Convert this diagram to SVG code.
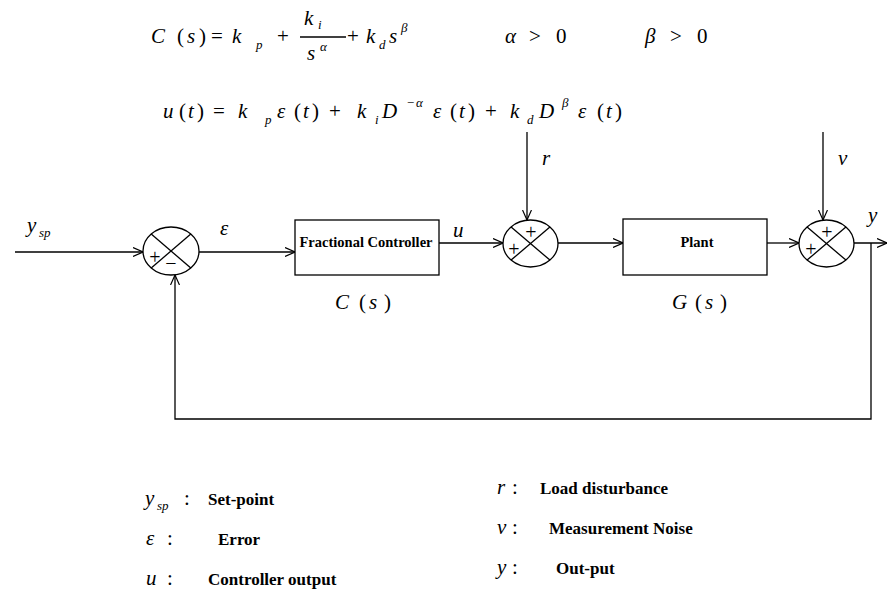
<svg xmlns="http://www.w3.org/2000/svg" width="888" height="603" viewBox="0 0 888 603" font-family="'Liberation Serif', 'Times New Roman', serif">
<style>
text{font-family:'Liberation Serif','Times New Roman',serif;fill:#000}
.m{font-size:21px;font-style:italic}
.u{font-size:21px}
.s{font-size:13px;font-style:italic}
.b{font-size:14.5px;font-weight:bold}
.lg{font-size:17px;font-weight:bold}
.pm{font-size:20px}
.ln{stroke:#000;stroke-width:1.3;fill:none}
</style>
<defs>
<marker id="arr" viewBox="0 0 10 10" refX="10" refY="5" markerWidth="10" markerHeight="10" markerUnits="userSpaceOnUse" orient="auto">
<path d="M0,0.5 L10,5 L0,9.5" fill="none" stroke="#000" stroke-width="1.2"/>
</marker>
</defs>

<g id="eq1">
<text class="m" x="151" y="43">C</text>
<text class="u" x="177" y="43">(</text>
<text class="m" x="187" y="43">s</text>
<text class="u" x="199" y="43">)</text>
<text class="u" x="211" y="43">=</text>
<text class="m" x="232" y="43">k</text>
<text class="s" x="256" y="49">p</text>
<text class="u" x="277" y="43">+</text>
<text class="m" x="304" y="25">k</text>
<text class="s" x="318" y="29">i</text>
<line class="ln" x1="300" y1="37" x2="346" y2="37"/>
<text class="m" x="307" y="60">s</text>
<text class="s" x="320" y="51">α</text>
<text class="u" x="347" y="43">+</text>
<text class="m" x="366" y="43">k</text>
<text class="s" x="379" y="49">d</text>
<text class="m" x="389" y="43">s</text>
<text class="s" x="401" y="32">β</text>
<text class="m" x="505" y="43">α</text>
<text class="u" x="529" y="43">&gt;</text>
<text class="u" x="556" y="43">0</text>
<text class="m" x="645" y="43">β</text>
<text class="u" x="670" y="43">&gt;</text>
<text class="u" x="697" y="43">0</text>
</g>

<g id="eq2">
<text class="m" x="163" y="118">u</text>
<text class="u" x="179" y="118">(</text>
<text class="m" x="188" y="118">t</text>
<text class="u" x="197" y="118">)</text>
<text class="u" x="213" y="118">=</text>
<text class="m" x="238" y="118">k</text>
<text class="s" x="265" y="124">p</text>
<text class="m" x="277" y="118">ε</text>
<text class="u" x="294" y="118">(</text>
<text class="m" x="303" y="118">t</text>
<text class="u" x="312" y="118">)</text>
<text class="u" x="329" y="118">+</text>
<text class="m" x="357" y="118">k</text>
<text class="s" x="375" y="124">i</text>
<text class="m" x="382" y="118">D</text>
<text class="s" x="406" y="107">−</text>
<text class="s" x="416" y="107">α</text>
<text class="m" x="433" y="118">ε</text>
<text class="u" x="450" y="118">(</text>
<text class="m" x="459" y="118">t</text>
<text class="u" x="468" y="118">)</text>
<text class="u" x="485" y="118">+</text>
<text class="m" x="510" y="118">k</text>
<text class="s" x="527" y="124">d</text>
<text class="m" x="539" y="118">D</text>
<text class="s" x="562" y="107">β</text>
<text class="m" x="578" y="118">ε</text>
<text class="u" x="597" y="118">(</text>
<text class="m" x="606" y="118">t</text>
<text class="u" x="615" y="118">)</text>
</g>

<g id="connectors">
<line class="ln" x1="15" y1="252" x2="143" y2="252" marker-end="url(#arr)"/>
<line class="ln" x1="199" y1="252" x2="295" y2="252" marker-end="url(#arr)"/>
<line class="ln" x1="439" y1="243" x2="503" y2="243" marker-end="url(#arr)"/>
<line class="ln" x1="527" y1="132" x2="527" y2="220" marker-end="url(#arr)"/>
<line class="ln" x1="558" y1="243" x2="623" y2="243" marker-end="url(#arr)"/>
<line class="ln" x1="767" y1="243" x2="799" y2="243" marker-end="url(#arr)"/>
<line class="ln" x1="823" y1="132" x2="823" y2="220" marker-end="url(#arr)"/>
<line class="ln" x1="854" y1="243" x2="887" y2="243" marker-end="url(#arr)"/>
<polyline class="ln" points="871,243 871,419 175,419 175,275" marker-end="url(#arr)"/>
</g>

<g id="sum1">
<ellipse class="ln" cx="171" cy="251" rx="28" ry="24"/>
<line class="ln" x1="151.2" y1="234" x2="190.8" y2="268"/>
<line class="ln" x1="151.2" y1="268" x2="190.8" y2="234"/>
<text class="pm" x="155" y="264" text-anchor="middle">+</text>
<text class="pm" x="171" y="270" text-anchor="middle">−</text>
</g>

<g id="controller">
<rect class="ln" x="295" y="220" width="144" height="55"/>
<text class="b" x="366" y="247" text-anchor="middle">Fractional Controller</text>
</g>

<g id="sum2">
<ellipse class="ln" cx="530.5" cy="243.5" rx="27.5" ry="23.5"/>
<line class="ln" x1="511.1" y1="226.9" x2="549.9" y2="260.1"/>
<line class="ln" x1="511.1" y1="260.1" x2="549.9" y2="226.9"/>
<text class="pm" x="531" y="239" text-anchor="middle">+</text>
<text class="pm" x="514" y="256" text-anchor="middle">+</text>
</g>

<g id="plant">
<rect class="ln" x="623" y="219" width="144" height="56"/>
<text class="b" x="697" y="247" text-anchor="middle">Plant</text>
</g>

<g id="sum3">
<ellipse class="ln" cx="826.5" cy="243.5" rx="27.5" ry="23.5"/>
<line class="ln" x1="807.1" y1="226.9" x2="845.9" y2="260.1"/>
<line class="ln" x1="807.1" y1="260.1" x2="845.9" y2="226.9"/>
<text class="pm" x="827" y="239" text-anchor="middle">+</text>
<text class="pm" x="811" y="256" text-anchor="middle">+</text>
</g>

<g id="labels">
<text class="m" x="27" y="232">y</text>
<text class="s" x="39" y="237">sp</text>
<text class="m" x="220" y="235">ε</text>
<text class="m" x="453" y="237">u</text>
<text class="m" x="542" y="165">r</text>
<text class="m" x="838" y="165">v</text>
<text class="m" x="868" y="222">y</text>
<text class="m" x="335" y="309">C</text>
<text class="u" x="359" y="309">(</text>
<text class="m" x="369" y="309">s</text>
<text class="u" x="384" y="309">)</text>
<text class="m" x="672" y="309">G</text>
<text class="u" x="695" y="309">(</text>
<text class="m" x="705" y="309">s</text>
<text class="u" x="720" y="309">)</text>
</g>

<g id="legend">
<text class="m" x="145" y="505">y</text>
<text class="s" x="157" y="510">sp</text>
<text class="u" x="184" y="505">:</text>
<text class="lg" x="208" y="505">Set-point</text>
<text class="m" x="146" y="545">ε</text>
<text class="u" x="167" y="545">:</text>
<text class="lg" x="218" y="545">Error</text>
<text class="m" x="146" y="585">u</text>
<text class="u" x="167" y="585">:</text>
<text class="lg" x="208" y="585">Controller output</text>
<text class="m" x="497" y="494">r</text>
<text class="u" x="512" y="494">:</text>
<text class="lg" x="540" y="494">Load disturbance</text>
<text class="m" x="497" y="534">v</text>
<text class="u" x="512" y="534">:</text>
<text class="lg" x="549" y="534">Measurement Noise</text>
<text class="m" x="497" y="574">y</text>
<text class="u" x="512" y="574">:</text>
<text class="lg" x="556" y="574">Out-put</text>
</g>
</svg>
